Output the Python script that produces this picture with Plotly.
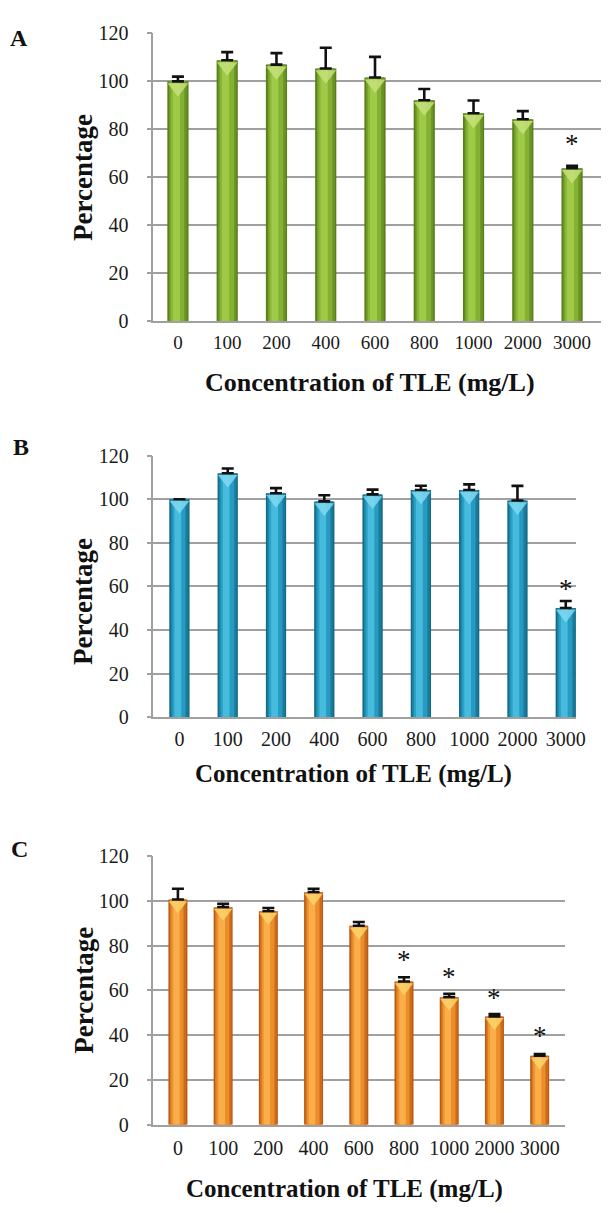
import plotly.graph_objects as go

# ---------------- data ----------------
categories = ["0", "100", "200", "400", "600", "800", "1000", "2000", "3000"]

a_values = [100.0, 108.8, 107.0, 105.4, 101.6, 92.1, 86.7, 84.2, 63.8]
a_errors = [2.0, 3.4, 4.8, 8.6, 8.6, 4.7, 5.3, 3.4, 1.0]
a_star_cats = ["3000"]
a_star_y = [74.0]

b_values = [100.0, 111.9, 102.7, 99.0, 102.2, 104.2, 104.2, 99.4, 50.1]
b_errors = [None, 2.2, 2.4, 2.8, 2.2, 2.0, 2.6, 6.7, 3.2]
b_star_cats = ["3000"]
b_star_y = [59.0]

c_values = [100.6, 97.2, 95.4, 103.9, 88.9, 64.0, 57.0, 48.4, 30.8]
c_errors = [4.8, 1.5, 1.4, 1.5, 1.7, 1.9, 1.5, 1.0, 0.8]
c_star_cats = ["800", "1000", "2000", "3000"]
c_star_y = [73.5, 65.9, 56.7, 39.6]

y_ticks = [0, 20, 40, 60, 80, 100, 120]
panel_letters = ["A", "B", "C"]
x_title = "Concentration of TLE (mg/L)"
y_title = "Percentage"

# ---------------- style ----------------
OFF = 8  # the page body adds an 8px margin; compensate
W, H = 610 - OFF, 1213 - OFF
SERIF = "Liberation Serif, Times New Roman, serif"
GRID = "#a0a0a0"


def px(v):
    return (v - OFF) / W


def py(v):
    return 1 - (v - OFF) / H


panels = [
    dict(values=a_values, errors=a_errors, stars=(a_star_cats, a_star_y),
         xdom=(155.5, 618), ydom=(315.7, 22.7), xr=(-0.5, 8.43 + 8 / 50.9), bw=0.43,
         shades=["#5a7d1e", "#729e28", "#89b634", "#9fca48", "#84b131", "#6a9225"],
         tip="#c4e07a", tipsize=18,
         letter_xy=(19, 27), ytitle_xy=(84, 169), xtitle_xy=(375, 378),
         xfs=19, xstand=3, tsize=26),
    dict(values=b_values, errors=b_errors, stars=(b_star_cats, b_star_y),
         xdom=(155.7, 585), ydom=(719.3, 452.7), xr=(-0.537, 8.22), bw=0.42,
         shades=["#156a88", "#1e88ab", "#2aa2c8", "#46bbdd", "#279ac0", "#1a7a9c"],
         tip="#7fd8f0", tipsize=17,
         letter_xy=(21, 444), ytitle_xy=(84, 601), xtitle_xy=(359, 777),
         xfs=20, xstand=3, tsize=25),
    dict(values=c_values, errors=c_errors, stars=(c_star_cats, c_star_y),
         xdom=(155.7, 573), ydom=(1134.3, 860.7), xr=(-0.54, 8.55), bw=0.42,
         shades=["#b85a18", "#dc7a20", "#ef952e", "#f9ae4a", "#eb8e2a", "#cd6b1d"],
         tip="#fcd36a", tipsize=16,
         letter_xy=(20, 853), ytitle_xy=(85, 997), xtitle_xy=(350, 1200),
         xfs=20, xstand=5, tsize=25),
]

# stripes across the bar width (fraction start, fraction end, shade index)
stripes = [(0.0, 1.0, 0), (0.08, 0.92, 1), (0.16, 0.80, 2), (0.26, 0.60, 3),
           (0.60, 0.84, 4), (0.84, 0.93, 5)]

fig = go.Figure()
annotations = []

for i, p in enumerate(panels):
    n = i + 1
    xa = "x" if n == 1 else f"x{n}"
    ya = "y" if n == 1 else f"y{n}"
    bw = p["bw"]
    x0, x1 = p["xdom"]
    yb, yt = p["ydom"]
    px_per_unit = (yb - yt) / 120.0
    for (f0, f1, si) in stripes:
        fig.add_trace(go.Bar(
            x=categories, y=p["values"], xaxis=xa, yaxis=ya,
            width=bw * (f1 - f0), offset=-bw / 2 + bw * f0,
            marker=dict(color=p["shades"][si], line=dict(width=0)),
            showlegend=False, hoverinfo="skip",
        ))
    # light cone highlight at the top of each bar
    tip_drop = (p["tipsize"] * 0.36) / px_per_unit
    fig.add_trace(go.Scatter(
        x=categories, y=[v - tip_drop for v in p["values"]], xaxis=xa, yaxis=ya,
        mode="markers",
        marker=dict(symbol="triangle-down", size=p["tipsize"], color=p["tip"],
                    opacity=0.85, line=dict(width=0)),
        showlegend=False, hoverinfo="skip", cliponaxis=False,
    ))
    # error bars (upper only) on a transparent bar on top
    fig.add_trace(go.Bar(
        x=categories, y=p["values"], xaxis=xa, yaxis=ya,
        width=bw, offset=-bw / 2,
        marker=dict(color="rgba(0,0,0,0)", line=dict(width=0)),
        error_y=dict(type="data", symmetric=False, array=p["errors"],
                     arrayminus=[0] * len(categories),
                     color="#111111", thickness=2.6, width=6),
        showlegend=False, hoverinfo="skip",
    ))
    # significance stars
    for cat, sy in zip(*p["stars"]):
        annotations.append(dict(x=categories.index(cat), y=sy, xref=xa, yref=ya,
                                text="*", showarrow=False, yanchor="middle",
                                xanchor="center", yshift=0,
                                font=dict(family=SERIF, size=27, color="#111111")))
    # axes
    xkey = "xaxis" if n == 1 else f"xaxis{n}"
    ykey = "yaxis" if n == 1 else f"yaxis{n}"
    fig.update_layout({
        xkey: dict(domain=[px(x0), min(1.0, px(x1))], anchor=ya, type="category",
                   range=list(p["xr"]), showgrid=False, showline=True,
                   linecolor=GRID, linewidth=1.5, ticks="",
                   ticklabelstandoff=p["xstand"],
                   tickfont=dict(family=SERIF, size=p["xfs"], color="#1a1a1a")),
        ykey: dict(domain=[py(yb), py(yt)], anchor=xa, range=[0, 120],
                   tickvals=y_ticks, showgrid=True, gridcolor=GRID, gridwidth=1.5,
                   showline=True, linecolor=GRID, linewidth=1.5, ticks="outside",
                   ticklen=5, tickcolor=GRID, tickwidth=1.5, zeroline=False,
                   ticklabelstandoff=14,
                   tickfont=dict(family=SERIF, size=20, color="#1a1a1a")),
    })
    lx, ly = p["letter_xy"]
    annotations.append(dict(x=px(lx), y=py(ly), xref="paper", yref="paper",
                            text=f"<b>{panel_letters[i]}</b>", showarrow=False,
                            xanchor="center", yanchor="middle",
                            font=dict(family=SERIF, size=24, color="#111111")))
    tx, ty = p["ytitle_xy"]
    annotations.append(dict(x=px(tx), y=py(ty), xref="paper", yref="paper",
                            text=f"<b>{y_title}</b>", showarrow=False, textangle=-90,
                            xanchor="center", yanchor="middle",
                            font=dict(family=SERIF, size=27, color="#111111")))
    cx, cy = p["xtitle_xy"]
    annotations.append(dict(x=px(cx), y=py(cy), xref="paper", yref="paper",
                            text=f"<b>{x_title}</b>", showarrow=False,
                            xanchor="center", yanchor="middle",
                            font=dict(family=SERIF, size=p["tsize"], color="#111111")))

fig.update_layout(
    width=W, height=H, margin=dict(l=0, r=0, t=0, b=0),
    paper_bgcolor="white", plot_bgcolor="white",
    barmode="overlay", annotations=annotations, showlegend=False,
)

fig.write_html("out.html")
